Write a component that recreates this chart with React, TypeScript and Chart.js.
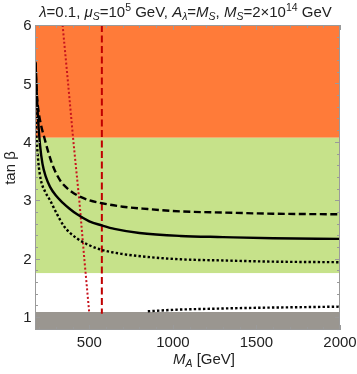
import React, { useEffect, useRef } from "react";
import { Chart, registerables } from "chart.js";

Chart.register(...registerables);

// Axis ranges and ticks
const X_MIN = 175;
const X_MAX = 2000;
const Y_MIN = 0.78;
const Y_MAX = 6;
const xMajorTicks = [500, 1000, 1500, 2000];
const xMinorTicks = [200, 300, 400, 600, 700, 800, 900, 1100, 1200, 1300, 1400, 1600, 1700, 1800, 1900];
const yMajorTicks = [1, 2, 3, 4, 5, 6];
const yMinorTicks = [0.8, 1.2, 1.4, 1.6, 1.8, 2.2, 2.4, 2.6, 2.8, 3.2, 3.4, 3.6, 3.8, 4.2, 4.4, 4.6, 4.8, 5.2, 5.4, 5.6, 5.8];

// Region boundaries in tan beta (bottom to top): gray, white, green, orange
const bandEdges = [0.78, 1.09, 1.75, 4.07, 6.0];

// Solid black curve
const solidMA = [178, 185, 193, 205, 220, 240, 265, 300, 340, 380, 427, 500, 575, 650, 800, 1044, 1300, 1600, 2000];
const solidTan = [5.37, 4.85, 4.4, 3.95, 3.62, 3.4, 3.23, 3.08, 2.96, 2.86, 2.76, 2.64, 2.57, 2.51, 2.44, 2.39, 2.37, 2.35, 2.34];

// Dashed black curve
const dashedMA = [178, 185, 195, 210, 230, 255, 275, 300, 330, 370, 425, 500, 575, 700, 850, 1044, 1300, 1600, 2000];
const dashedTan = [5.35, 4.85, 4.55, 4.3, 4.08, 3.82, 3.64, 3.47, 3.32, 3.2, 3.09, 3.0, 2.95, 2.89, 2.85, 2.81, 2.79, 2.77, 2.76];

// Dotted black curve (upper)
const dottedMA = [176, 180, 186, 195, 210, 235, 265, 300, 350, 425, 500, 575, 700, 850, 1044, 1300, 1600, 2000];
const dottedTan = [4.9, 4.4, 4.0, 3.65, 3.35, 3.15, 3.0, 2.8, 2.55, 2.35, 2.23, 2.15, 2.08, 2.03, 1.99, 1.97, 1.95, 1.94];

// Dotted black curve (lower)
const lowDottedMA = [850, 1000, 1250, 1500, 1750, 2000];
const lowDottedTan = [1.1, 1.125, 1.145, 1.16, 1.17, 1.18];

// Red dotted line
const redDottedMA = [340, 373, 405, 440, 470, 500];
const redDottedTan = [6.0, 5.0, 4.0, 3.0, 2.0, 1.06];

// Red dashed line
const redDashedMA = [575, 575];
const redDashedTan = [6.0, 1.06];

const bandColors = ["#9a9690", "#ffffff", "#c6e28a", "#ff7b39"];

const FONT = "'Liberation Sans', Arial, sans-serif";

type Seg = { t: string; it?: boolean; pos?: "sub" | "sup" };

const titleSegs: Seg[] = [
  { t: "λ", it: true },
  { t: "=0.1, " },
  { t: "μ", it: true },
  { t: "S", it: true, pos: "sub" },
  { t: "=10" },
  { t: "5", pos: "sup" },
  { t: " GeV, " },
  { t: "A", it: true },
  { t: "λ", it: true, pos: "sub" },
  { t: "=" },
  { t: "M", it: true },
  { t: "S", it: true, pos: "sub" },
  { t: ", " },
  { t: "M", it: true },
  { t: "S", it: true, pos: "sub" },
  { t: "=2×10" },
  { t: "14", pos: "sup" },
  { t: " GeV" },
];

const xLabelSegs: Seg[] = [
  { t: "M", it: true },
  { t: "A", it: true, pos: "sub" },
  { t: " [GeV]" },
];

function segFont(s: Seg, size: number) {
  const sz = s.pos ? size * 0.7 : size;
  return `${s.it ? "italic " : ""}${sz}px ${FONT}`;
}

function richWidth(ctx: CanvasRenderingContext2D, segs: Seg[], size: number) {
  let w = 0;
  for (const s of segs) {
    ctx.font = segFont(s, size);
    w += ctx.measureText(s.t).width;
  }
  return w;
}

function drawRich(ctx: CanvasRenderingContext2D, segs: Seg[], x: number, y: number, size: number) {
  let cx = x;
  ctx.textBaseline = "alphabetic";
  ctx.textAlign = "left";
  for (const s of segs) {
    ctx.font = segFont(s, size);
    const dy = s.pos === "sub" ? size * 0.22 : s.pos === "sup" ? -size * 0.4 : 0;
    ctx.fillText(s.t, cx, y + dy);
    cx += ctx.measureText(s.t).width;
  }
}

const pts = (xs: number[], ys: number[]) => xs.map((x, i) => ({ x, y: ys[i] }));

const framePlugin = {
  id: "framePlugin",
  afterDatasetsDraw(chart: any) {
    const { ctx, chartArea: a, scales } = chart;
    const xs = scales.x;
    const ys = scales.y;
    ctx.save();
    ctx.strokeStyle = "#9a9a9a";
    ctx.lineWidth = 1;
    ctx.beginPath();
    const tick = (v: number, len: number, axis: "x" | "y") => {
      if (axis === "x") {
        const px = Math.round(xs.getPixelForValue(v)) + 0.5;
        ctx.moveTo(px, a.bottom);
        ctx.lineTo(px, a.bottom - len);
        ctx.moveTo(px, a.top);
        ctx.lineTo(px, a.top + len);
      } else {
        const py = Math.round(ys.getPixelForValue(v)) + 0.5;
        ctx.moveTo(a.left, py);
        ctx.lineTo(a.left + len, py);
        ctx.moveTo(a.right, py);
        ctx.lineTo(a.right - len, py);
      }
    };
    xMajorTicks.forEach((v) => tick(v, 5, "x"));
    xMinorTicks.forEach((v) => tick(v, 3, "x"));
    yMajorTicks.forEach((v) => tick(v, 5, "y"));
    yMinorTicks.forEach((v) => tick(v, 3, "y"));
    ctx.stroke();
    ctx.strokeRect(a.left + 0.5, a.top + 0.5, a.right - a.left - 1, a.bottom - a.top - 1);
    ctx.restore();
  },
  afterDraw(chart: any) {
    const { ctx, scales } = chart;
    const xs = scales.x;
    const ys = scales.y;
    ctx.save();
    ctx.fillStyle = "#222";
    ctx.font = `15px ${FONT}`;
    ctx.textAlign = "center";
    ctx.textBaseline = "alphabetic";
    xMajorTicks.forEach((v) => {
      ctx.fillText(String(v), xs.getPixelForValue(v), 347);
    });
    ctx.textAlign = "right";
    ctx.textBaseline = "middle";
    yMajorTicks.forEach((v) => {
      ctx.fillText(String(v), 31.5, ys.getPixelForValue(v) + 1);
    });

    // Title
    const tSize = 14;
    const tw = richWidth(ctx, titleSegs, tSize);
    const scaled = Math.max(12, Math.min(15, (tSize * 315) / tw));
    const tw2 = richWidth(ctx, titleSegs, scaled);
    drawRich(ctx, titleSegs, 185.5 - tw2 / 2, 17, scaled);

    // X label
    const xw = richWidth(ctx, xLabelSegs, 15);
    drawRich(ctx, xLabelSegs, 204 - xw / 2, 364, 15);

    // Y label
    ctx.save();
    ctx.translate(15, 168);
    ctx.rotate(-Math.PI / 2);
    ctx.font = `15px ${FONT}`;
    ctx.textAlign = "center";
    ctx.textBaseline = "alphabetic";
    ctx.fillText("tan β", 0, 0);
    ctx.restore();
    ctx.restore();
  },
};

export default function App() {
  const ref = useRef<HTMLCanvasElement | null>(null);
  useEffect(() => {
    if (!ref.current) return;
    const bandSets = bandColors.map((c, i) => ({
      label: "band" + i,
      data: [
        { x: X_MIN, y: bandEdges[i + 1] },
        { x: X_MAX, y: bandEdges[i + 1] },
      ],
      fill: { value: bandEdges[i] },
      backgroundColor: c,
      borderColor: c,
      borderWidth: 0,
      pointRadius: 0,
      order: 10,
    }));
    const line = (data: any, color: string, width: number, dash: number[], mono = true) => ({
      data,
      borderColor: color,
      borderWidth: width,
      borderDash: dash,
      pointRadius: 0,
      fill: false,
      cubicInterpolationMode: mono ? "monotone" : "default",
      tension: mono ? 0.4 : 0,
      order: 1,
    });
    const chart = new Chart(ref.current, {
      type: "line",
      data: {
        datasets: [
          line(pts(solidMA, solidTan), "#000", 2.4, []),
          line(pts(dashedMA, dashedTan), "#000", 2.4, [7, 3.5]),
          line(pts(dottedMA, dottedTan), "#000", 2.4, [2.4, 2.2]),
          line(pts(lowDottedMA, lowDottedTan), "#000", 2.4, [2.4, 2.2]),
          line(pts(redDottedMA, redDottedTan), "#c8141e", 2, [2, 2.2], false),
          line(pts(redDashedMA, redDashedTan), "#c00000", 2, [7, 3.5], false),
          ...bandSets,
        ] as any,
      },
      options: {
        responsive: false,
        animation: false,
        devicePixelRatio: 1,
        layout: { padding: { left: 35, top: 25, right: 17, bottom: 44 } },
        scales: {
          x: { type: "linear", min: X_MIN, max: X_MAX, display: false },
          y: { type: "linear", min: Y_MIN, max: Y_MAX, display: false },
        },
        plugins: { legend: { display: false }, tooltip: { enabled: false }, title: { display: false } },
      },
      plugins: [framePlugin],
    });
    return () => chart.destroy();
  }, []);
  return (
    <div style={{ position: "fixed", left: 0, top: 0, width: 357, height: 374, background: "#fff" }}>
      <canvas ref={ref} width={357} height={374} style={{ width: 357, height: 374, display: "block" }} />
    </div>
  );
}
